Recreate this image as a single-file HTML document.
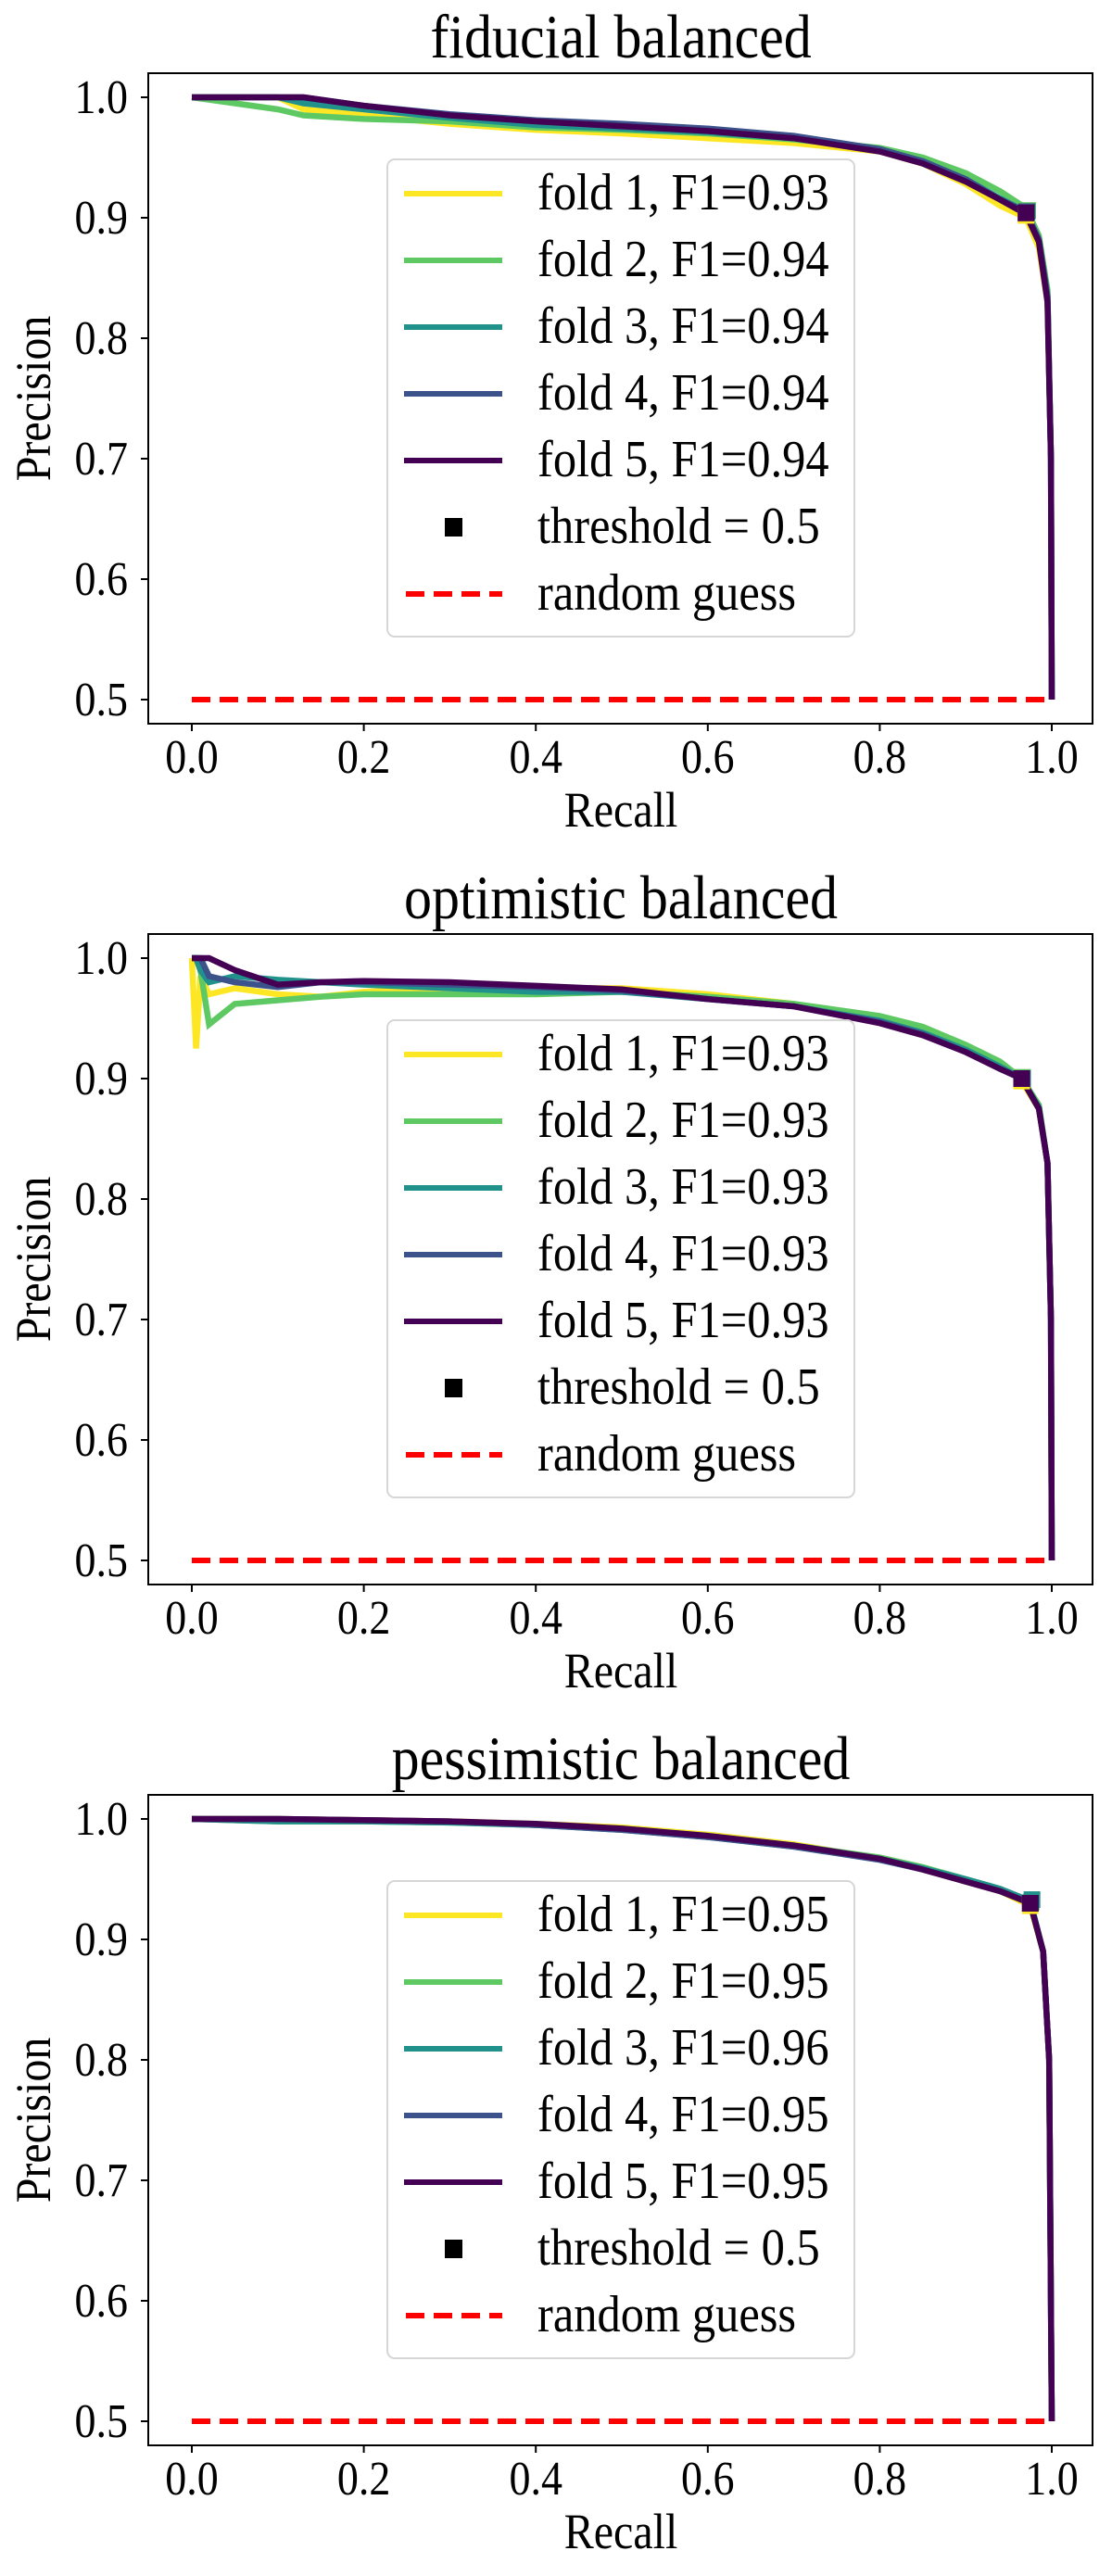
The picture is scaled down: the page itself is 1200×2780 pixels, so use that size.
<!DOCTYPE html>
<html><head><meta charset="utf-8">
<style>
html,body{margin:0;padding:0;background:#fff;}
svg{display:block;}
text{font-family:"Liberation Serif","DejaVu Serif",serif;fill:#000;}
</style></head>
<body>
<svg id="fig" width="1200" height="2780" viewBox="0 0 1200 2780" xmlns="http://www.w3.org/2000/svg"></svg>
<script>
// ---- data ----
const panelTitles = ["fiducial balanced", "optimistic balanced", "pessimistic balanced"];
const foldColors = ["#fde725", "#5ec962", "#21918c", "#3b528b", "#440154"];
const xTicks = [0.0, 0.2, 0.4, 0.6, 0.8, 1.0];
const xTickLabels = ["0.0", "0.2", "0.4", "0.6", "0.8", "1.0"];
const yTicks = [0.5, 0.6, 0.7, 0.8, 0.9, 1.0];
const yTickLabels = ["0.5", "0.6", "0.7", "0.8", "0.9", "1.0"];
const randomGuess = 0.5;

const fidF1 = ["0.93", "0.94", "0.94", "0.94", "0.94"];
const optF1 = ["0.93", "0.93", "0.93", "0.93", "0.93"];
const pesF1 = ["0.95", "0.95", "0.96", "0.95", "0.95"];

const fidRecall = [0, 0.1, 0.13, 0.2, 0.3, 0.4, 0.5, 0.6, 0.7, 0.8, 0.85, 0.9, 0.94, 0.97, 0.985, 0.995, 0.999, 1.0];
const fidPrec1 = [1, 1, 0.99, 0.985, 0.978, 0.973, 0.970, 0.966, 0.962, 0.955, 0.945, 0.928, 0.910, 0.900, 0.875, 0.83, 0.70, 0.5];
const fidPrec2 = [1, 0.99, 0.985, 0.982, 0.980, 0.975, 0.973, 0.970, 0.965, 0.958, 0.950, 0.937, 0.922, 0.908, 0.885, 0.84, 0.70, 0.5];
const fidPrec3 = [1, 1, 0.995, 0.990, 0.983, 0.977, 0.974, 0.971, 0.966, 0.956, 0.947, 0.932, 0.916, 0.905, 0.882, 0.835, 0.70, 0.5];
const fidPrec4 = [1, 1, 1, 0.993, 0.986, 0.981, 0.978, 0.974, 0.968, 0.957, 0.947, 0.932, 0.915, 0.905, 0.882, 0.835, 0.70, 0.5];
const fidPrec5 = [1, 1, 1, 0.993, 0.985, 0.980, 0.976, 0.972, 0.966, 0.955, 0.945, 0.930, 0.915, 0.903, 0.880, 0.83, 0.70, 0.5];
const fidThrR = [0.97, 0.972, 0.971, 0.971, 0.970];
const fidThrP = [0.902, 0.906, 0.905, 0.905, 0.904];

const optRecall = [0, 0.005, 0.01, 0.02, 0.05, 0.1, 0.15, 0.2, 0.3, 0.4, 0.5, 0.6, 0.7, 0.8, 0.85, 0.9, 0.94, 0.965, 0.985, 0.995, 0.999, 1.0];
const optPrec1 = [1, 0.925, 0.985, 0.970, 0.975, 0.970, 0.968, 0.972, 0.975, 0.975, 0.975, 0.970, 0.962, 0.948, 0.938, 0.925, 0.912, 0.898, 0.875, 0.83, 0.70, 0.5];
const optPrec2 = [1, 1, 0.990, 0.945, 0.962, 0.965, 0.968, 0.970, 0.970, 0.970, 0.972, 0.968, 0.962, 0.952, 0.943, 0.928, 0.914, 0.900, 0.878, 0.83, 0.70, 0.5];
const optPrec3 = [1, 1, 0.990, 0.980, 0.985, 0.982, 0.980, 0.978, 0.975, 0.972, 0.972, 0.966, 0.960, 0.948, 0.938, 0.924, 0.910, 0.900, 0.876, 0.83, 0.70, 0.5];
const optPrec4 = [1, 1, 1, 0.985, 0.980, 0.976, 0.980, 0.980, 0.978, 0.976, 0.973, 0.966, 0.960, 0.947, 0.937, 0.922, 0.908, 0.900, 0.875, 0.83, 0.70, 0.5];
const optPrec5 = [1, 1, 1, 1, 0.990, 0.978, 0.980, 0.981, 0.980, 0.977, 0.974, 0.966, 0.960, 0.946, 0.936, 0.922, 0.908, 0.900, 0.875, 0.83, 0.70, 0.5];
const optThrR = [0.965, 0.966, 0.966, 0.965, 0.965];
const optThrP = [0.898, 0.901, 0.900, 0.900, 0.900];

const pesRecall = [0, 0.1, 0.2, 0.3, 0.4, 0.5, 0.6, 0.7, 0.8, 0.85, 0.9, 0.94, 0.975, 0.99, 0.997, 1.0];
const pesPrec1 = [1, 1, 0.999, 0.998, 0.996, 0.993, 0.987, 0.979, 0.967, 0.958, 0.948, 0.940, 0.928, 0.89, 0.80, 0.5];
const pesPrec2 = [1, 0.998, 0.998, 0.997, 0.995, 0.992, 0.986, 0.978, 0.968, 0.960, 0.950, 0.942, 0.930, 0.89, 0.80, 0.5];
const pesPrec3 = [1, 0.998, 0.998, 0.997, 0.995, 0.991, 0.985, 0.977, 0.967, 0.959, 0.950, 0.942, 0.932, 0.89, 0.80, 0.5];
const pesPrec4 = [1, 1, 0.999, 0.998, 0.995, 0.991, 0.985, 0.977, 0.966, 0.958, 0.948, 0.940, 0.930, 0.89, 0.80, 0.5];
const pesPrec5 = [1, 1, 0.999, 0.998, 0.996, 0.992, 0.986, 0.978, 0.967, 0.958, 0.948, 0.940, 0.930, 0.89, 0.80, 0.5];
const pesThrR = [0.975, 0.976, 0.977, 0.975, 0.975];
const pesThrP = [0.928, 0.931, 0.933, 0.930, 0.930];

// ---- layout ----
const NS = "http://www.w3.org/2000/svg";
const svg = document.getElementById("fig");
const panelStep = 929;
const axL = 160, axR = 1179, axTop0 = 79, axBot0 = 781;
const X0 = 207, XU = 928;
const Y1 = 105, YU = 1300;
const SY = 1.12;

function mk(tag, attrs, parent) {
  const e = document.createElementNS(NS, tag);
  for (const k in attrs) e.setAttribute(k, attrs[k]);
  (parent || svg).appendChild(e);
  return e;
}
function txt(x, y, size, anchor, content, parent, rot) {
  const tr = "translate(" + x + "," + y + ")" + (rot ? " rotate(-90)" : "") + " scale(1," + SY + ")";
  const t = mk("text", {x: 0, y: 0, "font-size": size, "text-anchor": anchor, transform: tr}, parent);
  t.textContent = content;
  return t;
}
function xs(v) { return X0 + v * XU; }
function ysF(off) { return v => off + Y1 + (1 - v) * YU; }

const panels = [
  {title: panelTitles[0], recall: fidRecall, precs: [fidPrec1, fidPrec2, fidPrec3, fidPrec4, fidPrec5], f1: fidF1, tr: fidThrR, tp: fidThrP, key: "fiducial"},
  {title: panelTitles[1], recall: optRecall, precs: [optPrec1, optPrec2, optPrec3, optPrec4, optPrec5], f1: optF1, tr: optThrR, tp: optThrP, key: "optimistic"},
  {title: panelTitles[2], recall: pesRecall, precs: [pesPrec1, pesPrec2, pesPrec3, pesPrec4, pesPrec5], f1: pesF1, tr: pesThrR, tp: pesThrP, key: "pessimistic"}
];

panels.forEach((p, pi) => {
  const off = pi * panelStep;
  const ys = ysF(off);
  const g = mk("g", {});
  
  

  const t = txt(670, 62 + off, 60, "middle", p.title, g);
  
  

  const rg = mk("line", {x1: xs(0), x2: xs(1), y1: ys(randomGuess), y2: ys(randomGuess), stroke: "#ff0000", "stroke-width": 6, "stroke-dasharray": "20 10"}, g);
  
  

  p.precs.forEach((pr, fi) => {
    const pts = p.recall.map((r, i) => xs(r).toFixed(1) + "," + ys(pr[i]).toFixed(1)).join(" ");
    const pl = mk("polyline", {points: pts, fill: "none", stroke: foldColors[fi], "stroke-width": 6.5, "stroke-linejoin": "miter"}, g);
    
    
  });
  p.tr.forEach((r, fi) => {
    const s = 18;
    const m = mk("rect", {x: xs(r) - s / 2, y: ys(p.tp[fi]) - s / 2, width: s, height: s, fill: foldColors[fi]}, g);
    
    
  });

  const fr = mk("rect", {x: axL, y: axTop0 + off, width: axR - axL, height: axBot0 - axTop0, fill: "none", stroke: "#000", "stroke-width": 2}, g);
  
  

  xTicks.forEach((v, i) => {
    const tk = mk("line", {x1: xs(v), x2: xs(v), y1: axBot0 + off, y2: axBot0 + off + 8, stroke: "#000", "stroke-width": 2}, g);
    
    
    const tl = txt(xs(v), 834 + off, 46, "middle", xTickLabels[i], g);
    
    
  });
  yTicks.forEach((v, i) => {
    const tk = mk("line", {x1: axL - 8, x2: axL, y1: ys(v), y2: ys(v), stroke: "#000", "stroke-width": 2}, g);
    
    
    const tl = txt(138, ys(v) + 17, 46, "end", yTickLabels[i], g);
    
    
  });

  const xl = txt(670, 892 + off, 48, "middle", "Recall", g);
  
  
  const yl = txt(54, 430 + off, 48, "middle", "Precision", g, true);
  
  

  const lg = mk("g", {}, g);
  
  
  mk("rect", {x: 418, y: 172 + off, width: 504, height: 515, rx: 8, ry: 8, fill: "#fff", "fill-opacity": 0.8, stroke: "#d6d6d6", "stroke-width": 2}, lg);
  const rowY = i => 209 + off + i * 72;
  for (let fi = 0; fi < 5; fi++) {
    const e = mk("g", {}, lg);
    
    
    mk("line", {x1: 436, x2: 542, y1: rowY(fi), y2: rowY(fi), stroke: foldColors[fi], "stroke-width": 6}, e);
    txt(580, rowY(fi) + 17, 50.5, "start", "fold " + (fi + 1) + ", F1=" + p.f1[fi], e);
  }
  const e6 = mk("g", {}, lg);
  
  
  mk("rect", {x: 480, y: rowY(5) - 10, width: 19, height: 20, fill: "#000"}, e6);
  txt(580, rowY(5) + 17, 50.5, "start", "threshold = 0.5", e6);
  const e7 = mk("g", {}, lg);
  
  
  mk("line", {x1: 438, x2: 542, y1: rowY(6), y2: rowY(6), stroke: "#ff0000", "stroke-width": 6, "stroke-dasharray": "20 10"}, e7);
  txt(580, rowY(6) + 17, 50.5, "start", "random guess", e7);
});
</script>
</body></html>
